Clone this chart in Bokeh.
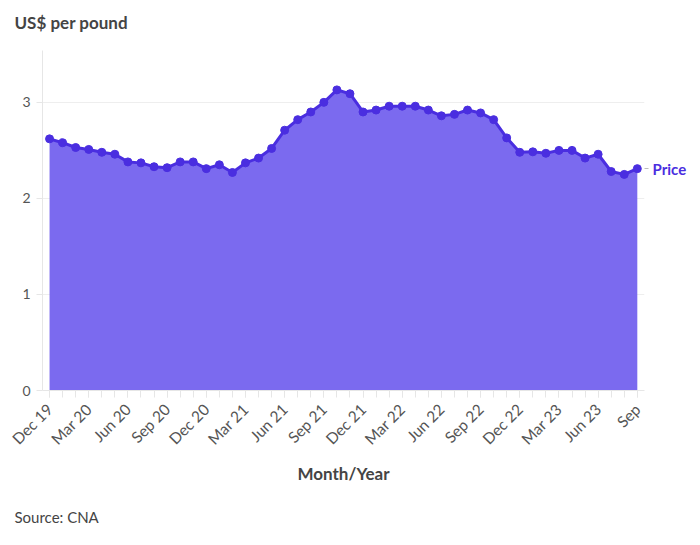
from math import pi
from bokeh.plotting import figure
from bokeh.models import Range1d, FixedTicker, Title, ColumnDataSource, LinearAxis
from bokeh.embed import file_html
from bokeh.resources import INLINE

months = ["Dec 19", "Jan 20", "Feb 20", "Mar 20", "Apr 20", "May 20", "Jun 20", "Jul 20", "Aug 20",
          "Sep 20", "Oct 20", "Nov 20", "Dec 20", "Jan 21", "Feb 21", "Mar 21", "Apr 21", "May 21",
          "Jun 21", "Jul 21", "Aug 21", "Sep 21", "Oct 21", "Nov 21", "Dec 21", "Jan 22", "Feb 22",
          "Mar 22", "Apr 22", "May 22", "Jun 22", "Jul 22", "Aug 22", "Sep 22", "Oct 22", "Nov 22",
          "Dec 22", "Jan 23", "Feb 23", "Mar 23", "Apr 23", "May 23", "Jun 23", "Jul 23", "Aug 23",
          "Sep"]
price = [2.62, 2.58, 2.53, 2.51, 2.48, 2.46, 2.38, 2.37, 2.33, 2.32, 2.38, 2.38, 2.31, 2.35,
         2.27, 2.37, 2.42, 2.52, 2.71, 2.82, 2.90, 3.00, 3.13, 3.09, 2.90, 2.92, 2.96, 2.96,
         2.96, 2.92, 2.86, 2.875, 2.92, 2.89, 2.82, 2.63, 2.48, 2.485, 2.47, 2.50, 2.50, 2.42,
         2.46, 2.28, 2.25, 2.31]
tick_idx = list(range(0, 46, 3))
tick_labels = {i: months[i] for i in tick_idx}
y_ticks = [0, 1, 2, 3]
series_name = "Price"

x = list(range(len(price)))
src = ColumnDataSource(dict(x=x, y=price, y0=[0] * len(price)))

FONT = "Lato"
p = figure(width=690, height=544, output_backend="svg", toolbar_location=None,
           x_range=Range1d(-0.54, 45.55), y_range=Range1d(0, 3.54),
           min_border_left=42, min_border_right=46, min_border_top=50, min_border_bottom=154)
p.outline_line_color = None
p.background_fill_color = "white"

p.varea(x="x", y1="y0", y2="y", source=src, fill_color="#7b6aef", fill_alpha=1.0)
p.line(x="x", y="y", source=src, line_color="#4a2ee0", line_width=3)
p.scatter(x="x", y="y", source=src, size=8, fill_color="#4a2ee0", line_color="#4a2ee0")

# spacer between frame and title, then the title itself
spacer = Title(text=" ", text_font_size="1px", standoff=13)
p.add_layout(spacer, "above")
main_title = Title(text="US$ per pound", align="left", offset=-28, standoff=4,
                   text_font=FONT, text_font_size="17px", text_font_style="bold",
                   text_color="#444444")
p.add_layout(main_title, "above")

# x axis
xa = p.xaxis[0]
xa.ticker = FixedTicker(ticks=tick_idx, minor_ticks=x)
xa.major_label_overrides = tick_labels
xa.major_label_orientation = pi / 4
xa.major_label_text_font = FONT
xa.major_label_text_font_size = "15.5px"
xa.major_label_text_color = "#555555"
xa.major_label_standoff = 9
xa.axis_line_color = "#e6e6e6"
xa.major_tick_line_color = "#e6e6e6"
xa.minor_tick_line_color = "#e6e6e6"
xa.major_tick_in = 0
xa.major_tick_out = 7
xa.minor_tick_in = 0
xa.minor_tick_out = 7
xa.axis_label = "Month/Year"
xa.axis_label_text_font = FONT
xa.axis_label_text_font_size = "17px"
xa.axis_label_text_font_style = "bold"
xa.axis_label_text_color = "#444444"
xa.axis_label_standoff = 6

# y axis
ya = p.yaxis[0]
ya.ticker = FixedTicker(ticks=y_ticks)
ya.major_label_text_font = FONT
ya.major_label_text_font_size = "14px"
ya.major_label_text_color = "#555555"
ya.axis_line_color = "#e6e6e6"
ya.major_tick_line_color = "#e6e6e6"
ya.major_tick_in = 0
ya.major_tick_out = 6
ya.minor_tick_line_color = None
ya.major_label_standoff = 6

p.xgrid.grid_line_color = None
p.ygrid.grid_line_color = "#eeeeee"

# series label at the line end, as a right-side axis tick
ra = LinearAxis(ticker=FixedTicker(ticks=[price[-1]]),
                major_label_overrides={price[-1]: series_name})
ra.axis_line_color = None
ra.minor_tick_line_color = None
ra.major_tick_in = 0
ra.major_tick_out = 4
ra.major_tick_line_color = "#bbbbbb"
ra.major_label_standoff = 4
ra.major_label_text_font = FONT
ra.major_label_text_font_size = "15px"
ra.major_label_text_font_style = "bold"
ra.major_label_text_color = "#4a2ee0"
p.add_layout(ra, "right")

src_title = Title(text="Source: CNA", align="left", offset=-28, text_font=FONT,
                  text_font_size="15px", text_font_style="normal", text_color="#444444",
                  standoff=37)
p.add_layout(src_title, "below")

open("out.html", "w").write(file_html(p, INLINE))
